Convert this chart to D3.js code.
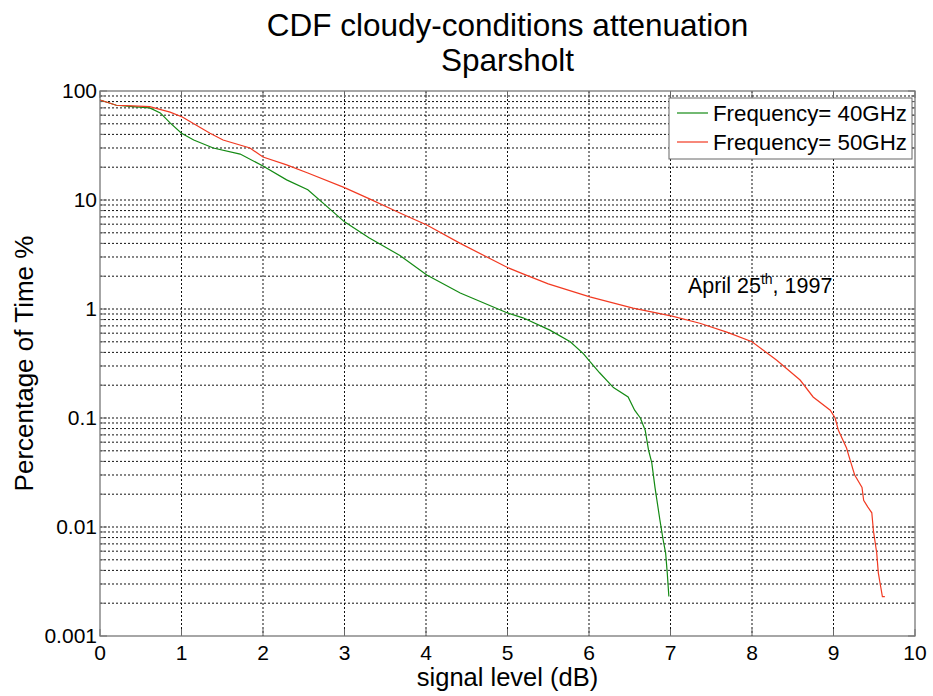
<!DOCTYPE html>
<html>
<head>
<meta charset="utf-8">
<script src="https://cdn.jsdelivr.net/npm/d3@7"></script>
<style>
  body { margin: 0; background: #fff; }
  text { font-family: "Liberation Sans", Arial, sans-serif; fill: #000; }
</style>
</head>
<body>
<svg width="933" height="696"></svg>
<script>
// signal level (dB) and percentage of time
const level40 = [0, 0.2, 0.4, 0.61, 0.74, 0.86, 1.0, 1.15, 1.39, 1.72, 2.0, 2.29, 2.55, 3.0, 3.3, 3.68, 4.01, 4.42, 5.0, 5.19, 5.52, 5.77, 5.93, 6.01, 6.13, 6.3, 6.48, 6.56, 6.63, 6.69, 6.73, 6.77, 6.81, 6.87, 6.91, 6.94, 6.96, 6.98];
const pct40 = [82.7, 74, 72, 70, 63, 51, 41, 35.5, 30, 26.4, 20.5, 15.3, 12.4, 6.3, 4.5, 3.1, 2.05, 1.4, 0.92, 0.83, 0.64, 0.5, 0.39, 0.33, 0.26, 0.19, 0.156, 0.118, 0.1, 0.077, 0.051, 0.039, 0.023, 0.0116, 0.0076, 0.0058, 0.0038, 0.0023];

const level50 = [0, 0.2, 0.4, 0.61, 0.86, 1.01, 1.35, 1.51, 1.84, 2.0, 2.29, 2.55, 3.0, 3.3, 3.68, 4.01, 4.42, 5.0, 5.19, 5.5, 6.01, 6.54, 7.02, 7.36, 7.7, 8.0, 8.3, 8.59, 8.75, 8.96, 9.02, 9.06, 9.16, 9.2, 9.26, 9.35, 9.37, 9.42, 9.47, 9.49, 9.53, 9.55, 9.58, 9.6, 9.63];
const pct50 = [82.7, 74, 73, 72, 64, 57.7, 41, 35.5, 30, 24.8, 21, 17.7, 13, 10.3, 7.6, 5.9, 4.0, 2.4, 2.1, 1.7, 1.29, 1.02, 0.86, 0.74, 0.61, 0.5, 0.34, 0.223, 0.156, 0.118, 0.1, 0.077, 0.053, 0.042, 0.03, 0.023, 0.0176, 0.0153, 0.0135, 0.0092, 0.0058, 0.0038, 0.0028, 0.0023, 0.0023];

const seriesNames = ["Frequency= 40GHz", "Frequency= 50GHz"];
const seriesColors = ["#138a13", "#f23a22"];
const xTicks = [0, 1, 2, 3, 4, 5, 6, 7, 8, 9, 10];
const yTicks = [0.001, 0.01, 0.1, 1, 10, 100];
const yTickLabels = ["0.001", "0.01", "0.1", "1", "10", "100"];

const margin = { top: 91, right: 18, bottom: 60, left: 100 };
const width = 933 - margin.left - margin.right;
const height = 696 - margin.top - margin.bottom;

const svg = d3.select("svg");
const g = svg.append("g").attr("transform", `translate(${margin.left},${margin.top})`);

const x = d3.scaleLinear().domain([0, 10]).range([0, width]);
const y = d3.scaleLog().domain([0.001, 100]).range([height, 0]);

// minor values for the log grid
const minor = [];
yTicks.slice(0, -1).forEach(d => {
    for (let k = 2; k <= 9; k++) minor.push(d * k);
});

// grid
g.append("g").selectAll("line").data(xTicks.slice(1, -1)).enter().append("line")
    .attr("x1", d => x(d)).attr("x2", d => x(d))
    .attr("y1", 0).attr("y2", height)
    .attr("stroke", "#111").attr("stroke-dasharray", "2,2");

g.append("g").selectAll("line").data(yTicks.slice(1, -1).concat(minor)).enter().append("line")
    .attr("x1", 0).attr("x2", width)
    .attr("y1", d => y(d)).attr("y2", d => y(d))
    .attr("stroke", "#111").attr("stroke-dasharray", "2,2");

// ticks pointing inward on all sides
const tickG = g.append("g").attr("stroke", "#666");
xTicks.forEach(d => {
    tickG.append("line").attr("x1", x(d)).attr("x2", x(d)).attr("y1", height).attr("y2", height - 7);
    tickG.append("line").attr("x1", x(d)).attr("x2", x(d)).attr("y1", 0).attr("y2", 7);
});
yTicks.concat(minor).forEach(d => {
    const len = yTicks.includes(d) ? 7 : 4;
    tickG.append("line").attr("x1", 0).attr("x2", len).attr("y1", y(d)).attr("y2", y(d));
    tickG.append("line").attr("x1", width).attr("x2", width - len).attr("y1", y(d)).attr("y2", y(d));
});

// curves
const line = d3.line().x(d => x(d[0])).y(d => y(d[1]));
[[level40, pct40], [level50, pct50]].forEach((s, i) => {
    g.append("path")
        .datum(d3.zip(s[0], s[1]))
        .attr("d", line)
        .attr("fill", "none")
        .attr("stroke", seriesColors[i])
        .attr("stroke-width", 1.2);
});

// frame
g.append("rect").attr("width", width).attr("height", height)
    .attr("fill", "none").attr("stroke", "#777").attr("stroke-width", 1.3);

// tick labels
g.append("g").selectAll("text").data(xTicks).enter().append("text")
    .attr("x", d => x(d)).attr("y", height + 24)
    .attr("text-anchor", "middle").attr("font-size", 21)
    .text(d => d);

g.append("g").selectAll("text").data(yTicks).enter().append("text")
    .attr("x", -3).attr("y", (d, i) => y(d) + 7)
    .attr("text-anchor", "end").attr("font-size", 21)
    .text((d, i) => yTickLabels[i]);

// axis labels
svg.append("text")
    .attr("x", margin.left + width / 2).attr("y", 686)
    .attr("text-anchor", "middle").attr("font-size", 25.5)
    .text("signal level (dB)");

svg.append("text")
    .attr("transform", `translate(33,${margin.top + height / 2}) rotate(-90)`)
    .attr("text-anchor", "middle").attr("font-size", 26)
    .text("Percentage of Time %");

// title
svg.append("text")
    .attr("x", margin.left + width / 2).attr("y", 36)
    .attr("text-anchor", "middle").attr("font-size", 31.5)
    .text("CDF cloudy-conditions attenuation");
svg.append("text")
    .attr("x", margin.left + width / 2).attr("y", 71)
    .attr("text-anchor", "middle").attr("font-size", 31.5)
    .text("Sparsholt");

// legend
const leg = svg.append("g").attr("transform", "translate(669,98)");
leg.append("rect").attr("width", 243).attr("height", 61)
    .attr("fill", "#fff").attr("stroke", "#666");
seriesNames.forEach((name, i) => {
    const yy = 15 + i * 29;
    leg.append("line").attr("x1", 8).attr("x2", 39).attr("y1", yy).attr("y2", yy)
        .attr("stroke", seriesColors[i]).attr("stroke-width", 1.2);
    leg.append("text").attr("x", 44).attr("y", yy + 8).attr("font-size", 22.3).text(name);
});

// annotation
const note = svg.append("text").attr("x", 688).attr("y", 293).attr("font-size", 21.5);
note.append("tspan").text("April 25");
note.append("tspan").attr("font-size", 14).attr("dy", -9).text("th");
note.append("tspan").attr("dy", 9).text(", 1997");
</script>
</body>
</html>
